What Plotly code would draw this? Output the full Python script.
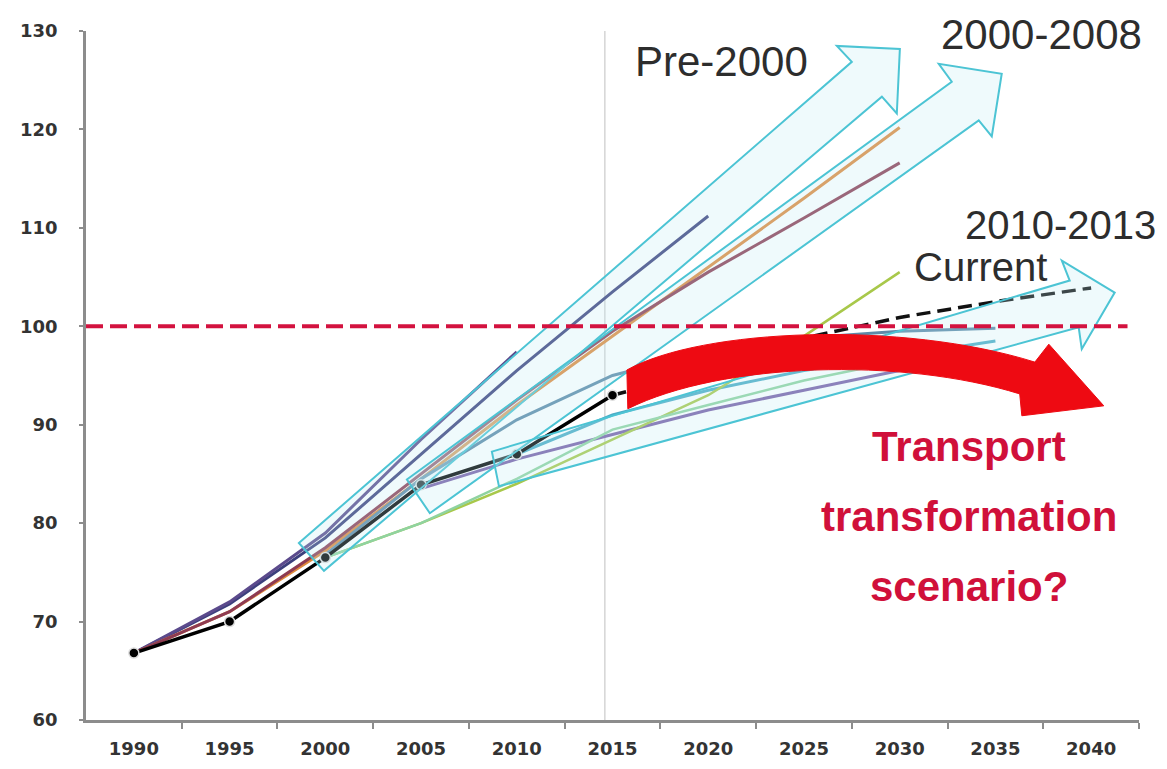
import plotly.graph_objects as go

# ---------------- data ----------------
years = [1990, 1995, 2000, 2005, 2010, 2015, 2020, 2025, 2030, 2035, 2040]
tick_labels = [str(y) for y in years]

hist_years = [1990, 1995, 2000, 2005, 2010, 2015]
hist_values = [66.8, 70.0, 76.5, 83.9, 87.0, 93.0]

current_years = [2015, 2020, 2025, 2030, 2035, 2040]
current_values = [93.0, 95.5, 98.8, 100.9, 102.5, 103.9]

# projection series (None = not part of that projection)
proj_navy = [66.8, 71.8, 78.5, 87.0, 95.5, 103.5, 111.2, None, None, None, None]
proj_purple_short = [66.8, 72.0, 79.0, 88.5, 97.4, None, None, None, None, None, None]
proj_orange = [66.8, 71.0, 77.2, 84.5, 92.0, 99.0, 106.0, 113.0, 120.2, None, None]
proj_maroon = [66.8, 71.0, 77.5, 85.0, 92.5, 99.5, 105.5, 111.0, 116.6, None, None]
proj_steel = [None, None, 76.8, 84.5, 90.5, 95.0, 97.5, 98.8, 99.5, 99.8, None]
proj_purple_low = [None, None, None, 83.5, 86.5, 89.0, 91.5, 93.5, 95.5, 97.0, None]
proj_teal = [None, None, None, None, 87.0, 91.0, 93.5, 95.5, 97.0, 98.5, None]
proj_lime = [None, None, 76.5, 80.0, 84.0, 88.5, 93.0, 99.0, 105.5, None, None]
proj_green = [None, None, 76.5, 80.0, 84.5, 89.5, 92.0, 94.5, 96.5, None, None]

projections = [
    ("Pre-2000 a", proj_navy, "#3c3f7c", 3),
    ("Pre-2000 b", proj_purple_short, "#5b4a8c", 3),
    ("2000-2008 a", proj_orange, "#e08a3c", 3),
    ("2000-2008 b", proj_maroon, "#8e3b52", 3),
    ("2010-2013 a", proj_steel, "#5d8aa8", 3),
    ("2010-2013 b", proj_purple_low, "#7a5fa8", 3),
    ("2010-2013 c", proj_teal, "#4bacc6", 3),
    ("Current", proj_lime, "#a8c84a", 2.5),
    ("2010-2013 d", proj_green, "#8fd3a0", 2.5),
]

reference_level = 100
divider_year = 2014.6

# arrow outlines in (year, index) units
arrow_pre2000 = [(1998.62, 77.98), (2027.5, 126.87), (2026.72, 128.48), (2030.01, 128.18),
                 (2029.85, 121.62), (2029.07, 123.33), (1999.93, 75.15)]
arrow_2000_2008 = [(2004.26, 84.44), (2032.72, 124.85), (2032.04, 126.67), (2035.33, 125.66),
                   (2034.81, 119.29), (2034.13, 120.91), (2005.46, 81.01)]
arrow_2010_2013 = [(2008.7, 87.27), (2038.88, 104.65), (2038.47, 106.67), (2041.23, 103.43),
                   (2039.51, 97.68), (2039.35, 99.9), (2009.07, 83.74)]

# big red curved arrow (year, index)
red_arrow_path = ("M 2015.75,95.56 C 2019.67,99.8 2030.11,100.6 2037.06,96.36 "
                  "L 2037.79,98.18 L 2040.66,91.92 L 2036.38,90.91 L 2036.27,93.13 "
                  "C 2030.11,96.87 2020.71,96.36 2015.8,91.62 Z")

# ---------------- figure ----------------
fig = go.Figure()

for name, vals, color, w in projections:
    fig.add_trace(go.Scatter(x=years, y=vals, mode="lines", name=name,
                             line=dict(color=color, width=w), connectgaps=False,
                             hoverinfo="skip"))

fig.add_trace(go.Scatter(x=current_years, y=current_values, mode="lines", name="Current",
                         line=dict(color="#111111", width=3.5, dash="14px,7px")))

fig.add_trace(go.Scatter(x=hist_years, y=hist_values, mode="lines+markers", name="History",
                         line=dict(color="#000000", width=3.5),
                         marker=dict(color="#000000", size=10, line=dict(color="#dddddd", width=1.5))))

def poly_path(pts):
    return "M " + " L ".join(f"{x},{y}" for x, y in pts) + " Z"

shapes = []
shapes.append(dict(type="line", xref="x", yref="y", x0=divider_year, x1=divider_year, y0=60, y1=130.5,
                   line=dict(color="#d5d5d5", width=1.5), layer="below"))
for pts in (arrow_pre2000, arrow_2000_2008, arrow_2010_2013):
    shapes.append(dict(type="path", xref="x", yref="y", path=poly_path(pts),
                       line=dict(color="#4cc4d4", width=2),
                       fillcolor="rgba(190,235,245,0.25)", layer="above"))
shapes.append(dict(type="path", xref="x", yref="y", path=red_arrow_path,
                   line=dict(color="#ee0a12", width=1), fillcolor="#ee0a12", layer="above"))
shapes.append(dict(type="line", xref="x", yref="y", x0=1987.5, x1=2041.9,
                   y0=reference_level, y1=reference_level,
                   line=dict(color="#d3123f", width=4, dash="17px,7px"), layer="above"))

label_font = dict(family="Liberation Sans, Arial, sans-serif", size=42, color="#2d2d2d")
red_font = dict(family="Liberation Sans, Arial, sans-serif", size=42, color="#d0103a", weight="bold")

annotations = [
    dict(x=2020.7, y=126.9, text="Pre-2000", font=label_font),
    dict(x=2037.4, y=129.6, text="2000-2008", font=label_font),
    dict(x=2038.4, y=110.3, text="2010-2013", font=dict(label_font, size=40)),
    dict(x=2034.2, y=106.0, text="Current", font=dict(label_font, size=40)),
    dict(x=2033.6, y=87.8, text="Transport", font=red_font),
    dict(x=2033.6, y=80.7, text="transformation", font=red_font),
    dict(x=2033.6, y=73.6, text="scenario?", font=red_font),
]
for a in annotations:
    a.update(xref="x", yref="y", showarrow=False, xanchor="center", yanchor="middle")

tick_font = dict(family="DejaVu Sans, Verdana, sans-serif", size=18, color="#333333", weight="bold")

# the page body adds an ~8px offset; margins compensate so the plot area lands where the reference has it
fig.update_layout(
    width=1167, height=769,
    margin=dict(l=78, r=36, t=19, b=57),
    paper_bgcolor="white", plot_bgcolor="white",
    showlegend=False,
    shapes=shapes, annotations=annotations,
    xaxis=dict(range=[1987.5, 2042.5], tickmode="array", tickvals=years, ticktext=tick_labels,
               ticks="", showline=True, linecolor="#8c8c8c", linewidth=2.5, showgrid=False,
               zeroline=False, tickfont=tick_font, ticklabelstandoff=11,
               minor=dict(tickmode="array", tickvals=[y + 2.5 for y in years], ticks="outside",
                          ticklen=6, tickwidth=2, tickcolor="#8c8c8c", showgrid=False)),
    yaxis=dict(range=[60, 130], tickmode="linear", tick0=60, dtick=10, ticks="outside",
               ticklen=4, tickwidth=2, tickcolor="#8c8c8c", showline=True, linecolor="#8c8c8c",
               linewidth=2.5, showgrid=False, zeroline=False, tickfont=tick_font,
               ticklabelstandoff=18),
)

fig.write_html("out.html")
